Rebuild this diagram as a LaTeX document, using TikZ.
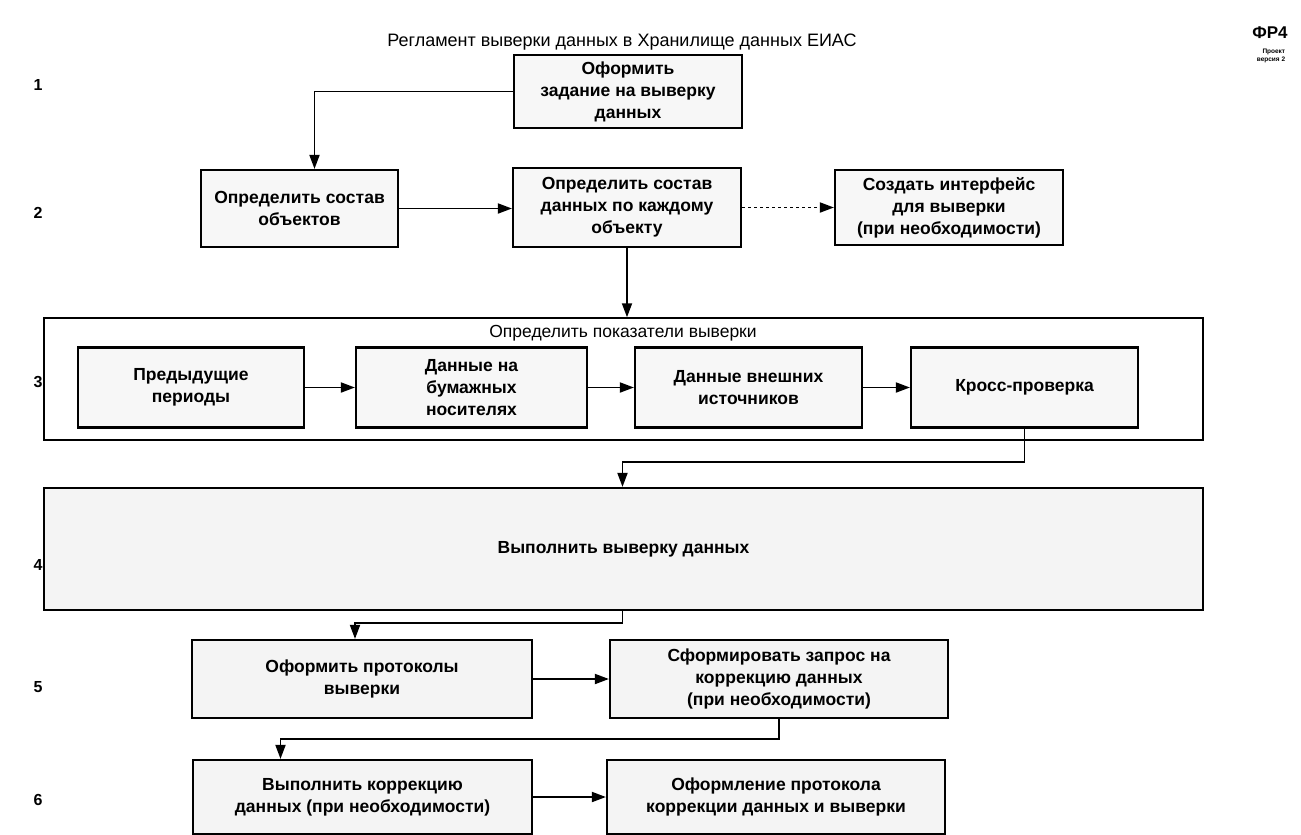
\documentclass[tikz,border=0pt]{standalone}
\usepackage{fontspec}
\setmainfont{Liberation Sans}
\usetikzlibrary{arrows.meta}
\tikzset{
  box/.style={draw, line width=2.2pt, fill=gray!6, align=center, inner sep=2pt,
    font=\fontsize{17.5}{22}\selectfont\bfseries},
  arr/.style={draw, line width=1.8pt, -{Triangle[length=14pt,width=10pt]}},
  lbl/.style={font=\fontsize{16}{18}\selectfont\bfseries},
}
\begin{document}
\begin{tikzpicture}[x=1pt,y=-1pt]
\useasboundingbox (0,0) rectangle (1301,835);
% title
\node[font=\fontsize{18}{20}\selectfont] (title) at (622,42) {Регламент выверки данных в Хранилище данных ЕИАС};
\node[font=\fontsize{17}{18}\selectfont\bfseries] (fr) at (1270,33) {ФР4};
\node[font=\fontsize{6.5}{8}\selectfont\bfseries, align=right] (ver) at (1271,56) {Проект\\версия 2};
% row labels
\node[lbl] (r1) at (38,85) {1};
\node[lbl] (r2) at (38,213) {2};
\node[lbl] (r3) at (38,382) {3};
\node[lbl] (r4) at (38,565) {4};
\node[lbl] (r5) at (38,687) {5};
\node[lbl] (r6) at (38,800) {6};
% row 1
\node[box, minimum width=228pt, minimum height=73pt] (b1) at (628,91.5) {Оформить\\задание на выверку\\данных};
% row 2
\node[box, minimum width=197pt, minimum height=77pt] (b2) at (299.5,208.5) {Определить состав\\объектов};
\node[box, minimum width=228pt, minimum height=79pt] (b3) at (627,207.5) {Определить состав\\данных по каждому\\объекту};
\node[box, minimum width=228pt, minimum height=75pt] (b4) at (949,207.5) {Создать интерфейс\\для выверки\\(при необходимости)};
% row 3 container
\node[draw, line width=1.5pt, minimum width=1159pt, minimum height=122pt] (c3) at (623.5,379) {};
\node[font=\fontsize{17.5}{20}\selectfont] (c3t) at (623,333) {Определить показатели выверки};
\node[box, minimum width=226pt, minimum height=80pt] (p1) at (191,387.5) {Предыдущие\\периоды};
\node[box, minimum width=231pt, minimum height=80pt] (p2) at (471.5,387.5) {Данные на\\бумажных\\носителях};
\node[box, minimum width=227pt, minimum height=80pt] (p3) at (748.5,387.5) {Данные внешних\\источников};
\node[box, minimum width=227pt, minimum height=80pt] (p4) at (1024.5,387.5) {Кросс-проверка};
% row 4
\node[box, fill=gray!9, minimum width=1159pt, minimum height=122pt] (b5) at (623.5,549) {Выполнить выверку данных};
% row 5
\node[box, fill=gray!9, minimum width=340pt, minimum height=78pt] (b6) at (362,679) {Оформить протоколы\\выверки};
\node[box, fill=gray!9, minimum width=338pt, minimum height=78pt] (b7) at (779,679) {Сформировать запрос на\\коррекцию данных\\(при необходимости)};
% row 6
\node[box, fill=gray!9, minimum width=339pt, minimum height=74pt] (b8) at (362.5,797) {Выполнить коррекцию\\данных (при необходимости)};
\node[box, fill=gray!9, minimum width=338pt, minimum height=74pt] (b9) at (776,797) {Оформление протокола\\коррекции данных и выверки};
% connectors
\draw[arr] (b1.west) -| ([xshift=15pt]b2.north);
\draw[arr] (b2.east) -- (b2.east -| b3.west);
\draw[arr, dashed] (b3.east) -- (b3.east -| b4.west);
\draw[arr] (b3.south) -- (b3.south |- c3.north);
\draw[arr] (p1.east) -- (p2.west);
\draw[arr] (p2.east) -- (p3.west);
\draw[arr] (p3.east) -- (p4.west);
\draw[arr] (p4.south) -- ++(0,33) -| ([xshift=-1pt]b5.north);
\draw[arr] ([xshift=-1pt]b5.south) -- ++(0,12) -| ([xshift=-7pt]b6.north);
\draw[arr] (b6.east) -- (b6.east -| b7.west);
\draw[arr] (b7.south) -- ++(0,20) -| ([xshift=-82pt]b8.north);
\draw[arr] (b8.east) -- (b8.east -| b9.west);
\end{tikzpicture}
\end{document}
